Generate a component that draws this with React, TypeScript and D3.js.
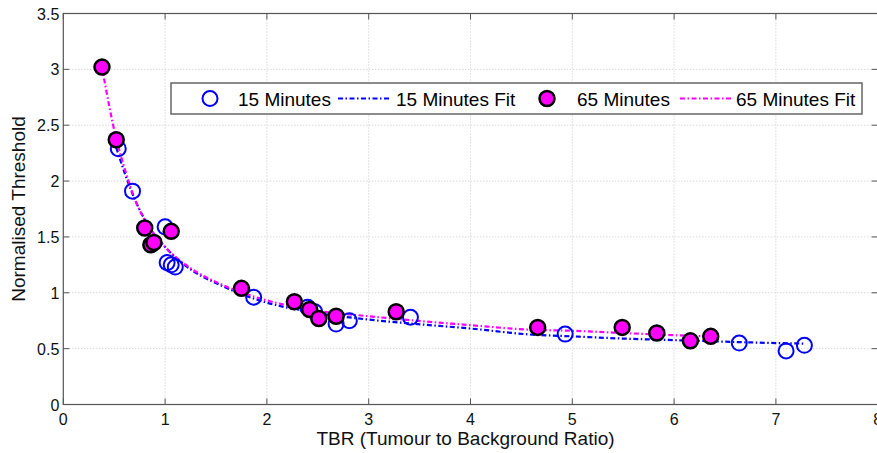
import React from 'react';
import * as d3 from 'd3';

// 15分钟测量点
const min15X = [0.54, 0.68, 1.0, 1.02, 1.06, 1.10, 1.87, 2.40, 2.47, 2.68, 2.81, 3.41, 4.93, 6.64, 7.10, 7.28];
const min15Y = [2.29, 1.91, 1.59, 1.27, 1.25, 1.23, 0.96, 0.87, 0.83, 0.72, 0.75, 0.78, 0.63, 0.55, 0.48, 0.53];

// 65分钟测量点
const min65X = [0.38, 0.52, 0.80, 0.86, 0.89, 1.06, 1.75, 2.27, 2.42, 2.51, 2.68, 3.27, 4.66, 5.49, 5.83, 6.16, 6.36];
const min65Y = [3.02, 2.37, 1.58, 1.43, 1.45, 1.55, 1.04, 0.92, 0.85, 0.77, 0.79, 0.83, 0.69, 0.69, 0.64, 0.57, 0.61];

// 拟合曲线
const fit15X = [0.52, 0.6, 0.72, 0.85, 1.0, 1.25, 1.54, 1.93, 2.42, 3.0, 3.41, 4.0, 4.58, 5.0, 5.5, 6.0, 7.0, 7.28];
const fit15Y = [2.30, 2.08, 1.80, 1.58, 1.41, 1.21, 1.07, 0.93, 0.83, 0.76, 0.725, 0.68, 0.627, 0.61, 0.59, 0.576, 0.55, 0.545];
const fit65X = [0.38, 0.52, 0.6, 0.72, 0.85, 1.0, 1.25, 1.54, 1.93, 2.42, 3.0, 3.41, 4.0, 4.58, 5.0, 5.5, 6.0, 6.36];
const fit65Y = [3.02, 2.38, 2.12, 1.80, 1.58, 1.41, 1.22, 1.08, 0.95, 0.85, 0.79, 0.755, 0.71, 0.67, 0.66, 0.64, 0.62, 0.61];

const xTicks = [0, 1, 2, 3, 4, 5, 6, 7, 8];
const yTicks = [0, 0.5, 1, 1.5, 2, 2.5, 3, 3.5];

const legendItems = ['15 Minutes', '15 Minutes Fit', '65 Minutes', '65 Minutes Fit'];

const W = 877;
const H = 453;
const FONT = '"Liberation Sans", Arial, sans-serif';

const App = () => {
  // 坐标比例尺
  const x = d3.scaleLinear().domain([0, 8]).range([63.3, 877.7]);
  const y = d3.scaleLinear().domain([0, 3.5]).range([404.5, 13.5]);

  const line = d3.line<number[]>()
    .x(d => x(d[0]))
    .y(d => y(d[1]))
    .curve(d3.curveMonotoneX);

  const fit15 = fit15X.map((v, i) => [v, fit15Y[i]]);
  const fit65 = fit65X.map((v, i) => [v, fit65Y[i]]);

  const left = x(0), right = x(8), top = y(3.5), bottom = y(0);
  const dash = '5,2.5,1.5,2.5';

  // 图例位置
  const lx = 171, ly = 83, lw = 691, lh = 31;
  const lc = ly + lh / 2;

  return (
    <svg width={W} height={H} style={{ position: 'absolute', left: 0, top: 0, background: '#fff' }} fontFamily={FONT}>
      {/* 网格 */}
      {xTicks.slice(1, -1).map(t => (
        <line key={'gx' + t} x1={x(t)} x2={x(t)} y1={top} y2={bottom} stroke="#c8c8c8" strokeDasharray="1,2" />
      ))}
      {yTicks.slice(1, -1).map(t => (
        <line key={'gy' + t} x1={left} x2={right} y1={y(t)} y2={y(t)} stroke="#c8c8c8" strokeDasharray="1,2" />
      ))}

      {/* 坐标框 */}
      <rect x={left} y={top} width={right - left} height={bottom - top} fill="none" stroke="#555" strokeWidth={1.2} />
      {xTicks.map(t => (
        <g key={'tx' + t}>
          <line x1={x(t)} x2={x(t)} y1={bottom} y2={bottom - 6} stroke="#555" />
          <line x1={x(t)} x2={x(t)} y1={top} y2={top + 6} stroke="#555" />
          <text x={x(t)} y={bottom + 20} fontSize={16} textAnchor="middle" fill="#111">{t}</text>
        </g>
      ))}
      {yTicks.map(t => (
        <g key={'ty' + t}>
          <line x1={left} x2={left + 6} y1={y(t)} y2={y(t)} stroke="#555" />
          <line x1={right} x2={right - 6} y1={y(t)} y2={y(t)} stroke="#555" />
          <text x={left - 4} y={y(t) + 6} fontSize={16} textAnchor="end" fill="#111">{t}</text>
        </g>
      ))}

      {/* 拟合曲线 */}
      <path d={line(fit15) || ''} fill="none" stroke="#0000ff" strokeWidth={2.2} strokeDasharray={dash} />
      <path d={line(fit65) || ''} fill="none" stroke="#ff00ff" strokeWidth={2.2} strokeDasharray={dash} />

      {/* 15分钟散点 */}
      {min15X.map((v, i) => (
        <circle key={'a' + i} cx={x(v)} cy={y(min15Y[i])} r={7.5} fill="none" stroke="#0000ff" strokeWidth={2} />
      ))}
      {/* 65分钟散点 */}
      {min65X.map((v, i) => (
        <circle key={'b' + i} cx={x(v)} cy={y(min65Y[i])} r={7.5} fill="#ff00ff" stroke="#000" strokeWidth={2.5} />
      ))}

      {/* 图例 */}
      <rect x={lx} y={ly} width={lw} height={lh} fill="#fff" stroke="#666" strokeWidth={1.5} />
      <circle cx={210} cy={lc} r={7.5} fill="none" stroke="#0000ff" strokeWidth={2} />
      <text x={238} y={lc + 7} fontSize={19} fill="#000">{legendItems[0]}</text>
      <line x1={338} x2={390} y1={lc} y2={lc} stroke="#0000ff" strokeWidth={2} strokeDasharray={dash} />
      <text x={396} y={lc + 7} fontSize={19} fill="#000">{legendItems[1]}</text>
      <circle cx={547} cy={lc} r={7.5} fill="#ff00ff" stroke="#000" strokeWidth={2.5} />
      <text x={577} y={lc + 7} fontSize={19} fill="#000">{legendItems[2]}</text>
      <line x1={680} x2={732} y1={lc} y2={lc} stroke="#ff00ff" strokeWidth={2} strokeDasharray={dash} />
      <text x={736} y={lc + 7} fontSize={19} fill="#000">{legendItems[3]}</text>

      {/* 轴标签 */}
      <text x={(left + right) / 2 - 5} y={445} fontSize={19} textAnchor="middle" fill="#111">TBR (Tumour to Background Ratio)</text>
      <text transform={`translate(25, ${(top + bottom) / 2}) rotate(-90)`} fontSize={19} textAnchor="middle" fill="#111">Normalised Threshold</text>
    </svg>
  );
};

export default App;
